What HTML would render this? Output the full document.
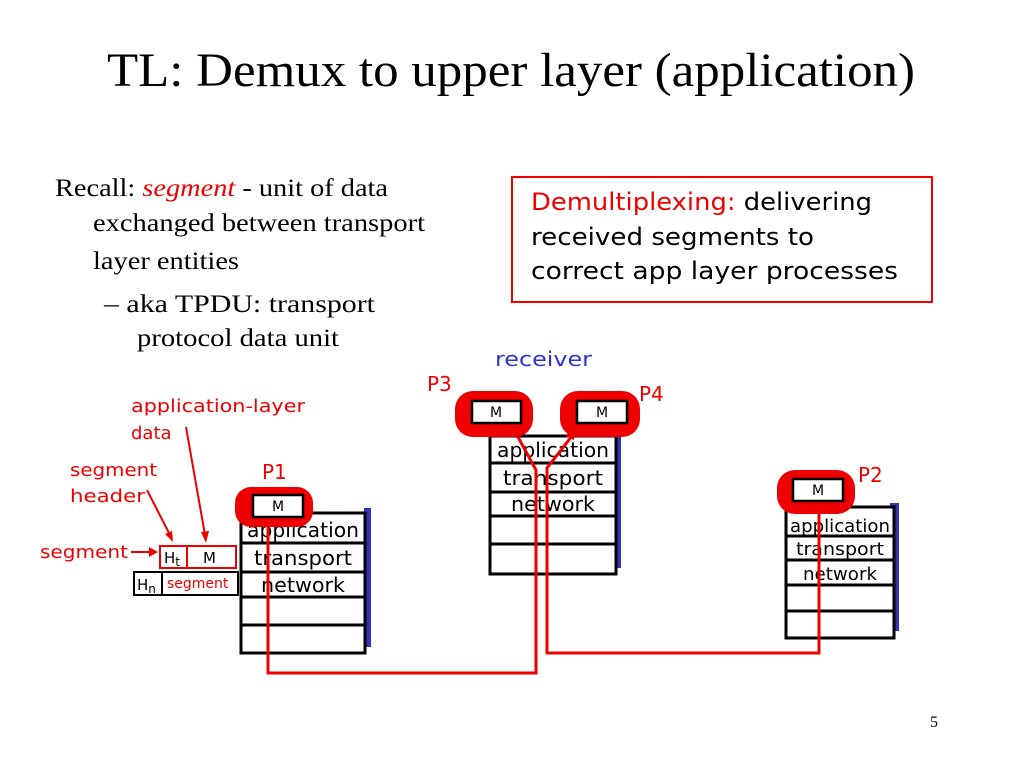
<!DOCTYPE html>
<html><head><meta charset="utf-8"><style>
html,body{margin:0;padding:0;background:#fff;}
svg{display:block;}
.s{font-family:"Liberation Serif",serif;}
.c{font-family:"DejaVu Sans","Liberation Sans",sans-serif;}
</style></head><body>
<svg width="1024" height="768" viewBox="0 0 1024 768" xmlns="http://www.w3.org/2000/svg">
<text x="107" y="86" class="s" font-size="48" textLength="808" lengthAdjust="spacingAndGlyphs">TL: Demux to upper layer (application)</text>
<g class="s" font-size="25">
<text x="55" y="196" textLength="333" lengthAdjust="spacingAndGlyphs">Recall: <tspan fill="#e00" font-style="italic">segment</tspan> - unit of data</text>
<text x="93" y="231" textLength="332" lengthAdjust="spacingAndGlyphs">exchanged between transport</text>
<text x="93" y="269" textLength="146" lengthAdjust="spacingAndGlyphs">layer entities</text>
<text x="104" y="312" textLength="271" lengthAdjust="spacingAndGlyphs">–  aka TPDU: transport</text>
<text x="137" y="346" textLength="202" lengthAdjust="spacingAndGlyphs">protocol data unit</text>
</g>
<rect x="512" y="177" width="420" height="125" fill="none" stroke="#e00" stroke-width="2"/>
<g class="c" font-size="24">
<text x="531" y="210" textLength="341" lengthAdjust="spacingAndGlyphs"><tspan fill="#e00">Demultiplexing:</tspan> delivering</text>
<text x="531" y="245" textLength="283" lengthAdjust="spacingAndGlyphs">received segments to</text>
<text x="531" y="279" textLength="367" lengthAdjust="spacingAndGlyphs">correct app layer processes</text>
</g>
<text x="495" y="366" class="c" font-size="20" fill="#3333cc" textLength="97" lengthAdjust="spacingAndGlyphs">receiver</text>

<!-- stacks -->
<g fill="none" stroke-width="3">
<rect x="364" y="508" width="7" height="139" fill="#3333bb" stroke="none"/>
<rect x="241" y="513" width="124" height="140" fill="#fff" stroke="#000"/>
<path d="M241 543H365M241 572H365M241 597H365M241 625H365" stroke="#000"/>
<rect x="612" y="428" width="9" height="140" fill="#3333bb" stroke="none"/>
<rect x="490" y="436" width="126" height="138" fill="#fff" stroke="#000"/>
<path d="M490 463H616M490 492H616M490 516H616M490 544H616" stroke="#000"/>
<rect x="890" y="503" width="9" height="128" fill="#3333bb" stroke="none"/>
<rect x="786" y="507" width="108" height="131" fill="#fff" stroke="#000"/>
<path d="M786 536H894M786 560H894M786 585H894M786 611H894" stroke="#000"/>
</g>
<g class="c" font-size="20" text-anchor="middle">
<text x="303" y="537" textLength="112" lengthAdjust="spacingAndGlyphs">application</text><text x="303" y="565" textLength="98" lengthAdjust="spacingAndGlyphs">transport</text><text x="303" y="592" textLength="84" lengthAdjust="spacingAndGlyphs">network</text>
<text x="553" y="457" textLength="112" lengthAdjust="spacingAndGlyphs">application</text><text x="553" y="485" textLength="100" lengthAdjust="spacingAndGlyphs">transport</text><text x="553" y="511" textLength="84" lengthAdjust="spacingAndGlyphs">network</text>
</g>
<g class="c" font-size="18" text-anchor="middle">
<text x="840" y="532" textLength="100" lengthAdjust="spacingAndGlyphs">application</text><text x="840" y="555" textLength="88" lengthAdjust="spacingAndGlyphs">transport</text><text x="840" y="580" textLength="74" lengthAdjust="spacingAndGlyphs">network</text>
</g>

<!-- red paths -->
<g fill="none" stroke="#e00" stroke-width="3">
<path d="M268 520V673H536V470L518 437"/>
<path d="M819 500V653H547V468L575 432"/>
</g>
<path d="M575 428l-10 8 9 4z" fill="#e00"/>

<!-- blobs -->
<g fill="#e00">
<rect x="235" y="487" width="78" height="40" rx="16"/>
<rect x="455" y="391" width="78" height="46" rx="18"/>
<rect x="560" y="391" width="80" height="46" rx="18"/>
<rect x="777" y="470" width="78" height="44" rx="18"/>
</g>
<g fill="#fff" stroke="#000" stroke-width="2.5">
<rect x="253" y="495" width="50" height="22"/>
<rect x="472" y="401" width="49" height="22"/>
<rect x="577" y="401" width="50" height="22"/>
<rect x="793" y="479" width="50" height="22"/>
</g>
<g class="c" font-size="14" text-anchor="middle">
<text x="278" y="511">M</text><text x="496" y="417">M</text><text x="602" y="417">M</text><text x="818" y="495">M</text>
</g>
<g class="c" font-size="20" fill="#e00">
<text x="262" y="479">P1</text><text x="427" y="391">P3</text><text x="639" y="401">P4</text><text x="858" y="482">P2</text>
</g>

<!-- segment labels -->
<g class="c" font-size="18" fill="#e00">
<text x="131" y="412" textLength="174" lengthAdjust="spacingAndGlyphs">application-layer</text>
<text x="131" y="439">data</text>
<text x="70" y="476" textLength="87" lengthAdjust="spacingAndGlyphs">segment</text>
<text x="70" y="502" textLength="75" lengthAdjust="spacingAndGlyphs">header</text>
<text x="40" y="558" textLength="88" lengthAdjust="spacingAndGlyphs">segment</text>
</g>
<g stroke="#e00" stroke-width="2" fill="none">
<path d="M186 427L205 535"/>
<path d="M147 490L170 535"/>
<path d="M131 552H150"/>
</g>
<g fill="#e00">
<path d="M206 543l-5-11 8-1z"/>
<path d="M173 542l-8-8 7-3z"/>
<path d="M158 552l-9-5v10z"/>
</g>
<rect x="160" y="546" width="76" height="22" fill="none" stroke="#e00" stroke-width="2"/>
<path d="M187 546V568" stroke="#e00" stroke-width="2"/>
<rect x="134" y="572" width="104" height="23" fill="none" stroke="#000" stroke-width="2"/>
<path d="M162 572V595" stroke="#000" stroke-width="2"/>
<g class="c" font-size="15">
<text x="164" y="563">H<tspan font-size="12" dy="3">t</tspan></text>
<text x="203" y="563">M</text>
<text x="137" y="590">H<tspan font-size="12" dy="3">n</tspan></text>
<text x="167" y="588" fill="#e00" font-size="14">segment</text>
</g>
<text x="930" y="727" class="s" font-size="16">5</text>
</svg>
</body></html>
